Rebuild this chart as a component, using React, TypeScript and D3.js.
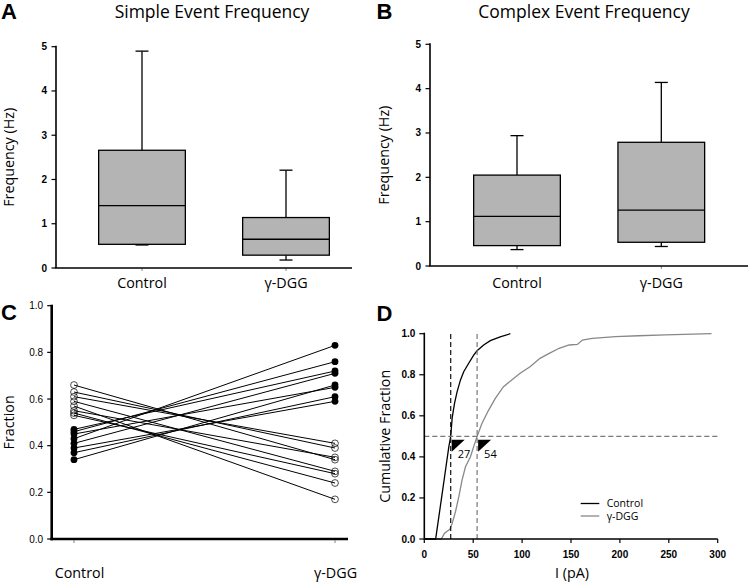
import React from "react";
import * as d3 from "d3";

// ---------- Data ----------
const boxCategories = ["Control", "γ-DGG"];
const yTicks5 = [0, 1, 2, 3, 4, 5];

// Panel A: Simple event frequency (Hz)
const simpleMin = [0.52, 0.18];
const simpleQ1 = [0.535, 0.29];
const simpleMedian = [1.41, 0.65];
const simpleQ3 = [2.66, 1.14];
const simpleMax = [4.9, 2.21];

// Panel B: Complex event frequency (Hz)
const complexMin = [0.37, 0.44];
const complexQ1 = [0.46, 0.535];
const complexMedian = [1.12, 1.26];
const complexQ3 = [2.05, 2.79];
const complexMax = [2.94, 4.14];

// Panel C: paired fractions
const pairCategories = ["Control", "γ-DGG"];
const fractionTicks = [0, 0.2, 0.4, 0.6, 0.8, 1.0];
const controlFilled = [0.47, 0.46, 0.45, 0.43, 0.41, 0.39, 0.37, 0.34];
const dggFilled = [0.72, 0.76, 0.65, 0.83, 0.71, 0.59, 0.61, 0.66];
const controlOpen = [0.53, 0.54, 0.55, 0.57, 0.59, 0.61, 0.63, 0.66];
const dggOpen = [0.28, 0.24, 0.35, 0.17, 0.29, 0.41, 0.39, 0.34];

// Panel D: cumulative distributions
const currentTicks = [0, 50, 100, 150, 200, 250, 300];
const cumTicks = [0, 0.2, 0.4, 0.6, 0.8, 1.0];
const controlI = [0, 11.6, 14.9, 18.3, 21.7, 25.1, 27, 28.5, 30.9, 33.5, 37, 40.3, 45.4, 50.5, 53.9, 60.7, 67.5, 77.6, 88];
const controlCum = [0, 0, 0.109, 0.222, 0.336, 0.45, 0.5, 0.59, 0.661, 0.717, 0.775, 0.815, 0.856, 0.896, 0.917, 0.945, 0.966, 0.985, 1.0];
const dggI = [0, 17.3, 20.7, 24.1, 26.1, 28.5, 31.9, 35.3, 38.6, 42.1, 47.2, 50.5, 54, 58.9, 65.8, 72.6, 81, 89.4, 98, 108.1, 118.3, 127.7, 137.9, 148.1, 156.5, 161.6, 171.7, 195.5, 219.2, 246.3, 293.7];
const dggCum = [0, 0, 0.028, 0.04, 0.047, 0.076, 0.133, 0.206, 0.287, 0.352, 0.401, 0.45, 0.5, 0.563, 0.628, 0.685, 0.742, 0.775, 0.807, 0.839, 0.88, 0.904, 0.929, 0.945, 0.948, 0.969, 0.977, 0.986, 0.99, 0.994, 1.0];
const medianMarkers = [27, 54];
const medianLabels = ["27", "54"];
const medianColors = ["#111", "#777"];
const legendLabels = ["Control", "γ-DGG"];
const legendColors = ["#000", "#888"];

// ---------- Styles ----------
const SANS = "'Open Sans', 'Noto Sans', sans-serif";
const ARIAL = "'Liberation Sans', Arial, sans-serif";
const BOX_FILL = "#b4b4b4";

type BoxProps = {
  letter: string;
  letterX: number;
  title: string;
  titleX: number;
  axisX: number;
  axisEnd: number;
  yBottom: number;
  yTop: number;
  centers: [number, number];
  ylabelX: number;
  mins: number[];
  q1s: number[];
  meds: number[];
  q3s: number[];
  maxs: number[];
};

function BoxPanel(p: BoxProps) {
  const y = d3.scaleLinear().domain([0, 5]).range([p.yBottom, p.yTop]);
  const x = d3.scalePoint<string>().domain(boxCategories).range(p.centers);
  const bw = 86.7;
  const cap = 13;
  const sw = 1.3;
  const ymid = (p.yBottom + p.yTop) / 2;
  return (
    <g>
      <text x={p.letterX} y={18.5} fontFamily={ARIAL} fontWeight="bold" fontSize={22}>{p.letter}</text>
      <text x={p.titleX} y={17.5} textAnchor="middle" fontFamily={SANS} fontSize={17.5}>{p.title}</text>
      <text transform={`translate(${p.ylabelX},${ymid}) rotate(-90)`} textAnchor="middle" fontFamily={SANS} fontSize={14.3}>Frequency (Hz)</text>
      {boxCategories.map((c, i) => {
        const xc = x(c) as number;
        return (
          <g key={c}>
            <line x1={xc} x2={xc} y1={y(p.maxs[i])} y2={y(p.q3s[i])} stroke="#000" strokeWidth={sw} />
            <line x1={xc - cap / 2} x2={xc + cap / 2} y1={y(p.maxs[i])} y2={y(p.maxs[i])} stroke="#000" strokeWidth={sw} />
            <line x1={xc} x2={xc} y1={y(p.mins[i])} y2={y(p.q1s[i])} stroke="#000" strokeWidth={sw} />
            <line x1={xc - cap / 2} x2={xc + cap / 2} y1={y(p.mins[i])} y2={y(p.mins[i])} stroke="#000" strokeWidth={sw} />
            <rect x={xc - bw / 2} y={y(p.q3s[i])} width={bw} height={y(p.q1s[i]) - y(p.q3s[i])} fill={BOX_FILL} stroke="#000" strokeWidth={sw} />
            <line x1={xc - bw / 2} x2={xc + bw / 2} y1={y(p.meds[i])} y2={y(p.meds[i])} stroke="#000" strokeWidth={sw} />
            <line x1={xc} x2={xc} y1={p.yBottom} y2={p.yBottom + 3} stroke="#666" strokeWidth={0.8} />
            <text x={xc} y={288} textAnchor="middle" fontFamily={SANS} fontSize={14.3}>{c}</text>
          </g>
        );
      })}
      <line x1={p.axisX} x2={p.axisX} y1={p.yBottom} y2={y(5) - 1} stroke="#000" strokeWidth={1.6} />
      <line x1={p.axisX - 0.8} x2={p.axisEnd} y1={p.yBottom} y2={p.yBottom} stroke="#000" strokeWidth={1.6} />
      {yTicks5.map((t) => (
        <g key={t}>
          <line x1={p.axisX - 4.5} x2={p.axisX} y1={y(t)} y2={y(t)} stroke="#000" strokeWidth={1.2} />
          <text x={p.axisX - 9} y={y(t)} dy="0.35em" textAnchor="end" fontFamily={ARIAL} fontWeight="bold" fontSize={10}>{t}</text>
        </g>
      ))}
    </g>
  );
}

function PanelC() {
  const y = d3.scaleLinear().domain([0, 1]).range([539, 305.7]);
  const x = d3.scalePoint<string>().domain(pairCategories).range([74, 335]);
  const axisX = 51.7;
  const x0 = x("Control") as number;
  const x1 = x("γ-DGG") as number;
  const r = 3.4;
  return (
    <g>
      <text x={1} y={320} fontFamily={ARIAL} fontWeight="bold" fontSize={22}>C</text>
      <text transform={`translate(14,${(y(0) + y(1)) / 2}) rotate(-90)`} textAnchor="middle" fontFamily={SANS} fontSize={14.3}>Fraction</text>
      {controlFilled.map((v, i) => (
        <line key={"fl" + i} x1={x0} x2={x1} y1={y(v)} y2={y(dggFilled[i])} stroke="#000" strokeWidth={1} />
      ))}
      {controlOpen.map((v, i) => (
        <line key={"ol" + i} x1={x0} x2={x1} y1={y(v)} y2={y(dggOpen[i])} stroke="#000" strokeWidth={1} />
      ))}
      {controlOpen.map((v, i) => (
        <g key={"oc" + i}>
          <circle cx={x0} cy={y(v)} r={r} fill="none" stroke="#000" strokeWidth={0.7} />
          <circle cx={x1} cy={y(dggOpen[i])} r={r} fill="none" stroke="#000" strokeWidth={0.7} />
        </g>
      ))}
      {controlFilled.map((v, i) => (
        <g key={"fc" + i}>
          <circle cx={x0} cy={y(v)} r={r} fill="#000" />
          <circle cx={x1} cy={y(dggFilled[i])} r={r} fill="#000" />
        </g>
      ))}
      <line x1={axisX} x2={axisX} y1={y(0) + 1.3} y2={y(1) - 1} stroke="#000" strokeWidth={2.6} />
      <line x1={axisX - 1.3} x2={348} y1={y(0)} y2={y(0)} stroke="#000" strokeWidth={2.6} />
      {fractionTicks.map((t) => (
        <g key={t}>
          <line x1={axisX - 4.5} x2={axisX} y1={y(t)} y2={y(t)} stroke="#000" strokeWidth={1.2} />
          <text x={axisX - 8.5} y={y(t)} dy="0.35em" textAnchor="end" fontFamily={ARIAL} fontSize={10}>{t.toFixed(1)}</text>
        </g>
      ))}
      {pairCategories.map((c) => (
        <g key={c}>
          <line x1={x(c) as number} x2={x(c) as number} y1={y(0) + 1} y2={y(0) + 4} stroke="#666" strokeWidth={0.8} />
        </g>
      ))}
      <text x={79.5} y={578} textAnchor="middle" fontFamily={SANS} fontSize={14.3}>Control</text>
      <text x={335.5} y={578} textAnchor="middle" fontFamily={SANS} fontSize={14.3}>γ-DGG</text>
    </g>
  );
}

function PanelD() {
  const x = d3.scaleLinear().domain([0, 300]).range([424.3, 717.7]);
  const y = d3.scaleLinear().domain([0, 1]).range([539, 333.7]);
  const line = d3.line<[number, number]>().x((d) => x(d[0])).y((d) => y(d[1]));
  const ctrl: [number, number][] = controlI.map((v, i) => [v, controlCum[i]]);
  const dgg: [number, number][] = dggI.map((v, i) => [v, dggCum[i]]);
  return (
    <g>
      <text x={376.5} y={320.7} fontFamily={ARIAL} fontWeight="bold" fontSize={22}>D</text>
      <text transform={`translate(390,${(y(0) + y(1)) / 2}) rotate(-90)`} textAnchor="middle" fontFamily={SANS} fontSize={14.3}>Cumulative Fraction</text>
      <path d={line(dgg) || ""} fill="none" stroke="#888" strokeWidth={1.3} />
      <path d={line(ctrl) || ""} fill="none" stroke="#000" strokeWidth={1.3} />
      <line x1={x(0)} x2={x(300)} y1={y(0.5)} y2={y(0.5)} stroke="#777" strokeWidth={1.3} strokeDasharray="5,3" />
      {medianMarkers.map((m, i) => (
        <g key={m}>
          <line x1={x(m)} x2={x(m)} y1={y(0)} y2={y(1)} stroke={medianColors[i]} strokeWidth={1.2} strokeDasharray="5,3" />
          <path d={`M${x(m) + 1},${y(0.5) + 3.5} L${x(m) + 14},${y(0.5) + 3.5} L${x(m) + 1},${y(0.5) + 15.5} Z`} fill="#000" />
          <text x={x(m) + 7} y={y(0.5) + 21.5} fontFamily={SANS} fontSize={11}>{medianLabels[i]}</text>
        </g>
      ))}
      <line x1={x(0)} x2={x(0)} y1={y(0) + 0.8} y2={y(1) - 1} stroke="#000" strokeWidth={1.6} />
      <line x1={x(0)} x2={x(300)} y1={y(0)} y2={y(0)} stroke="#000" strokeWidth={1.6} />
      {cumTicks.map((t) => (
        <g key={t}>
          <line x1={x(0) - 5} x2={x(0)} y1={y(t)} y2={y(t)} stroke="#000" strokeWidth={1.2} />
          <text x={x(0) - 9} y={y(t)} dy="0.35em" textAnchor="end" fontFamily={ARIAL} fontWeight="bold" fontSize={10}>{t.toFixed(1)}</text>
        </g>
      ))}
      {currentTicks.map((t) => (
        <g key={t}>
          <line x1={x(t)} x2={x(t)} y1={y(0)} y2={y(0) + 4} stroke="#000" strokeWidth={1.2} />
          <text x={x(t)} y={558} textAnchor="middle" fontFamily={ARIAL} fontWeight="bold" fontSize={10}>{t}</text>
        </g>
      ))}
      <text x={572} y={578} textAnchor="middle" fontFamily={SANS} fontSize={14.3}>I (pA)</text>
      {legendLabels.map((l, i) => (
        <g key={l}>
          <line x1={580.7} x2={599.3} y1={503.5 + i * 12.5} y2={503.5 + i * 12.5} stroke={legendColors[i]} strokeWidth={1.3} />
          <text x={606.7} y={503.5 + i * 12.5} dy="0.35em" fontFamily={SANS} fontSize={10.5}>{l}</text>
        </g>
      ))}
    </g>
  );
}

export default function App() {
  return (
    <svg width={750} height={583} style={{ position: "absolute", left: 0, top: 0, background: "#fff" }}>
      <rect width={750} height={583} fill="#fff" />
      <BoxPanel
        letter="A" letterX={1} title="Simple Event Frequency" titleX={212}
        axisX={56} axisEnd={352} yBottom={268} yTop={46.7} centers={[142, 286]} ylabelX={14}
        mins={simpleMin} q1s={simpleQ1} meds={simpleMedian} q3s={simpleQ3} maxs={simpleMax}
      />
      <BoxPanel
        letter="B" letterX={376.5} title="Complex Event Frequency" titleX={584}
        axisX={430} axisEnd={748} yBottom={266} yTop={44.3} centers={[517, 661.3]} ylabelX={389}
        mins={complexMin} q1s={complexQ1} meds={complexMedian} q3s={complexQ3} maxs={complexMax}
      />
      <PanelC />
      <PanelD />
    </svg>
  );
}
